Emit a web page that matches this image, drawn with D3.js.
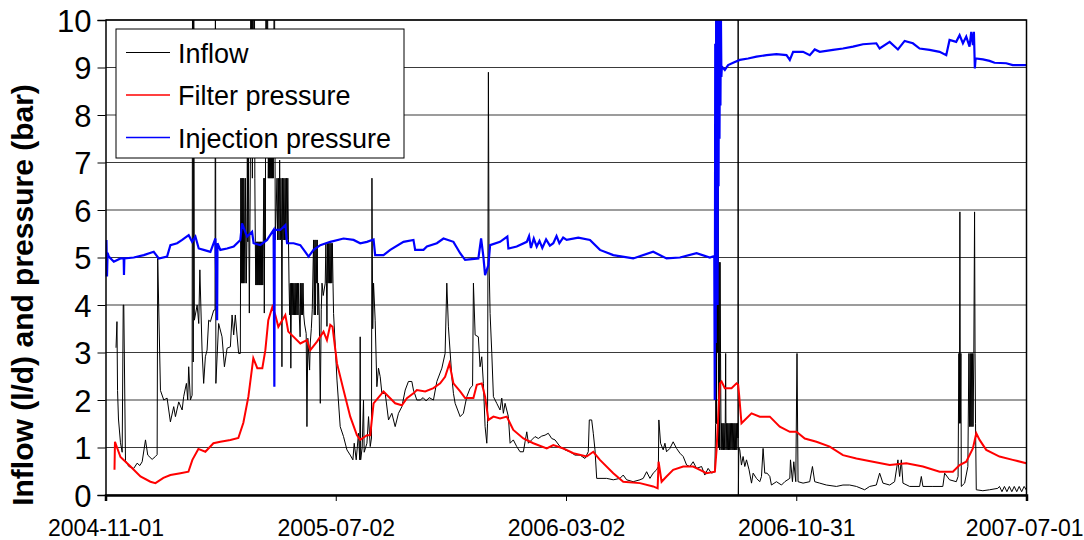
<!DOCTYPE html>
<html>
<head>
<meta charset="utf-8">
<script src="https://cdn.jsdelivr.net/npm/d3@7"></script>
<style>
  body { margin: 0; background: #fff; }
  svg text { font-family: Arial, "Liberation Sans", sans-serif; fill: #000; }
</style>
</head>
<body>
<main></main>
<script>
/* eslint-disable */

// ---- data ----
// x values are days since START, y values are l/d or bar
const START = '2004-11-01';
const END = '2007-07-01';
const xTickLabels = ['2004-11-01', '2005-07-02', '2006-03-02', '2006-10-31', '2007-07-01'];
const yTicks = [0, 1, 2, 3, 4, 5, 6, 7, 8, 9, 10];
const seriesNames = ['Inflow', 'Filter pressure', 'Injection pressure'];

const inflow = [
  [11.1, 3.1], [12.1, 3.65], [12.7, 2.2], [13.7, 1.6], [15.8, 1.1], [17.6, 0.9], [18.7, 4.0], [19.3, 4.0],
  [21.1, 0.72], [24.6, 0.6], [29.8, 0.56], [33.4, 0.67], [36.2, 0.62], [38.7, 0.7], [42.2, 1.16], [44.6, 0.84],
  [49.2, 0.75], [52.7, 0.81], [54.5, 0.85], [55.1, 4.98], [58.0, 2.2], [61.5, 2.0], [65.0, 2.04], [68.5, 1.54],
  [72.0, 1.86], [73.8, 1.65], [77.3, 1.96], [80.9, 1.79], [82.5, 2.07], [85.4, 2.35], [86.8, 2.0], [87.8, 2.7],
  [89.6, 2.0], [91.4, 2.1], [91.9, 12], [92.6, 2.8], [93.1, 12], [93.8, 3.68], [96.7, 4.0], [98.4, 3.61],
  [99.6, 4.74], [101.9, 3.05], [103.6, 2.35], [105.4, 2.91], [107.2, 3.05], [108.9, 3.68], [110.7, 3.65],
  [114.2, 3.89], [115.6, 3.9], [116.0, 12], [116.5, 2.35], [119.4, 3.61], [123.0, 3.33], [125.5, 2.7],
  [128.3, 3.09], [131.8, 3.12], [133.6, 3.79], [135.3, 3.37], [137.0, 3.79], [138.8, 3.37], [140.5, 2.98],
  [142.3, 2.98], [142.8, 6.67], [143.3, 4.46], [143.9, 6.67], [144.4, 4.46], [144.9, 6.67], [145.5, 4.46],
  [146.0, 6.67], [147.1, 4.46], [147.6, 6.67], [148.6, 4.46], [149.2, 5.33], [149.7, 7.1], [150.2, 5.33],
  [150.8, 7.1], [151.8, 3.83], [152.9, 7.1], [153.4, 12], [153.9, 7.1], [154.4, 12], [155.0, 6.67],
  [155.5, 12], [156.0, 7.1], [157.1, 12], [157.6, 6.67], [158.1, 5.33], [158.6, 4.42], [159.1, 5.33],
  [159.7, 4.42], [160.2, 5.33], [160.7, 4.42], [161.2, 5.33], [161.8, 4.42], [162.3, 5.33], [162.8, 4.42],
  [163.4, 5.33], [163.9, 4.42], [164.4, 5.33], [164.9, 4.42], [165.5, 5.33], [166.0, 4.42], [166.5, 5.33],
  [167.1, 6.67], [167.6, 3.83], [168.2, 6.67], [168.7, 5.33], [169.4, 12], [170.3, 7.1], [170.8, 12],
  [171.8, 6.67], [172.4, 7.47], [172.9, 6.67], [173.4, 7.47], [173.9, 6.67], [174.5, 7.47], [175.0, 6.67],
  [175.5, 7.47], [176.1, 6.67], [176.6, 7.47], [177.1, 6.67], [178.2, 12], [179.2, 5.37], [181.0, 6.67],
  [181.7, 5.37], [182.4, 6.67], [183.1, 5.37], [183.8, 7.05], [184.5, 5.37], [185.2, 6.67], [185.8, 5.37],
  [186.2, 2.7], [186.8, 6.67], [187.5, 5.37], [188.2, 6.67], [188.9, 5.37], [189.6, 6.67], [190.3, 5.37],
  [191.0, 6.67], [191.7, 5.37], [192.4, 6.67], [193.1, 5.37], [193.7, 4.46], [194.4, 3.79], [195.0, 4.46],
  [195.6, 2.67], [196.3, 4.46], [196.9, 3.79], [197.5, 4.46], [198.2, 3.79], [198.8, 4.46], [199.4, 3.79],
  [200.1, 4.46], [200.7, 3.79], [201.3, 4.46], [202.0, 3.79], [202.6, 4.46], [203.2, 3.79], [203.9, 4.46],
  [204.5, 3.79], [205.4, 3.33], [206.0, 4.46], [206.6, 3.79], [207.3, 4.46], [207.9, 3.79], [208.5, 4.46],
  [209.2, 3.79], [210.1, 3.6], [211.8, 3.4], [212.6, 1.44], [213.5, 3.3], [215.4, 2.63], [216.1, 3.2],
  [217.2, 3.5], [218.2, 3.9], [219.6, 5.37], [220.3, 3.79], [221.0, 5.37], [221.6, 3.79], [222.2, 5.37],
  [222.9, 4.46], [223.5, 5.37], [224.1, 3.79], [224.8, 4.46], [225.6, 3.79], [226.7, 1.93], [227.7, 3.9],
  [228.5, 4.46], [229.8, 4.2], [231.9, 4.46], [232.6, 5.3], [233.2, 4.46], [233.7, 3.55], [234.4, 5.3],
  [235.0, 4.46], [235.6, 5.3], [236.3, 4.46], [236.9, 5.3], [237.5, 4.46], [238.2, 5.3], [238.8, 4.46],
  [239.4, 5.3], [240.1, 4.46], [240.7, 3.82], [244.3, 2.42], [247.7, 1.44], [251.2, 1.23], [254.8, 0.95],
  [258.3, 0.84], [261.1, 0.74], [262.5, 1.09], [264.6, 0.74], [267.0, 1.3], [268.3, 0.74], [268.8, 3.33],
  [269.3, 0.74], [270.9, 1.0], [272.3, 2.0], [273.0, 0.9], [275.9, 1.09], [277.6, 1.65], [279.4, 1.02],
  [280.7, 1.2], [281.2, 6.67], [282.0, 3.5], [282.9, 4.46], [284.6, 3.68], [286.4, 2.28], [288.1, 2.67],
  [289.9, 2.49], [291.7, 2.14], [295.2, 2.14], [298.7, 1.58], [302.2, 1.72], [305.7, 1.44], [309.2, 1.72],
  [312.8, 1.86], [316.3, 2.21], [319.7, 2.39], [323.3, 2.39], [325.0, 2.21], [328.6, 2.0], [332.1, 2.0],
  [335.2, 2.05], [338.4, 1.98], [341.6, 2.05], [346.1, 2.0], [349.7, 2.39], [355.0, 2.67], [358.4, 2.98],
  [360.2, 4.46], [361.9, 3.54], [365.5, 2.49], [367.2, 2.14], [369.0, 1.93], [374.3, 1.65], [377.7, 1.72],
  [381.3, 2.07], [384.8, 2.25], [387.4, 2.3], [388.3, 4.46], [390.1, 3.37], [393.5, 3.33], [395.3, 2.7],
  [397.1, 2.91], [398.8, 2.35], [400.6, 1.44], [402.4, 1.09], [403.2, 1.5], [404.1, 8.9], [404.8, 4.9],
  [405.9, 3.82], [407.7, 2.98], [409.4, 2.07], [412.9, 1.93], [416.4, 1.79], [418.2, 2.04], [419.9, 1.72],
  [421.7, 1.93], [425.2, 1.65], [427.0, 1.09], [430.4, 1.16], [434.0, 1.02], [437.5, 0.91], [441.0, 0.91],
  [442.8, 1.12], [444.6, 1.33], [446.3, 1.09], [449.8, 1.16], [453.3, 1.23], [456.8, 1.19], [460.4, 1.24],
  [463.9, 1.26], [467.3, 1.3], [470.9, 1.19], [474.4, 1.16], [479.7, 1.02], [484.9, 0.95], [490.2, 0.91],
  [495.5, 0.84], [500.8, 0.84], [506.0, 0.77], [509.5, 0.91], [510.6, 1.58], [513.1, 1.58], [514.8, 1.3],
  [516.6, 0.95], [518.4, 0.35], [528.9, 0.35], [535.9, 0.32], [542.9, 0.35], [546.4, 0.42], [550.0, 0.32],
  [556.9, 0.28], [564.0, 0.32], [567.5, 0.35], [571.1, 0.49], [574.6, 0.35], [578.0, 0.46], [581.6, 0.53],
  [583.5, 0.6], [584.0, 1.58], [585.8, 1.09], [588.6, 0.95], [590.4, 1.09], [592.1, 0.91], [595.6, 0.98],
  [599.1, 1.12], [602.7, 0.98], [606.2, 0.88], [609.7, 0.81], [613.3, 0.63], [616.7, 0.6], [620.2, 0.7],
  [623.8, 0.56], [629.1, 0.6], [632.5, 0.42], [636.0, 0.56], [639.6, 0.46], [643.1, 0.49], [643.9, 1.51],
  [644.4, 12], [644.9, 1.5], [645.5, 12], [646.0, 3.0], [646.5, 12], [647.0, 1.0], [647.6, 4.9],
  [648.1, 0.95], [648.6, 4.9], [649.1, 2.98], [649.7, 0.95], [650.3, 1.51], [650.9, 0.95], [651.6, 1.51],
  [652.2, 0.95], [652.8, 1.51], [653.5, 0.95], [654.1, 1.51], [654.5, 2.98], [654.9, 0.95], [655.6, 1.51],
  [656.2, 0.95], [656.8, 1.51], [657.5, 0.95], [658.1, 1.51], [658.7, 0.95], [659.4, 1.51], [660.0, 0.95],
  [660.6, 1.51], [661.3, 0.95], [661.9, 1.51], [662.5, 0.95], [663.2, 1.51], [663.8, 0.95], [664.4, 1.51],
  [665.1, 0.95], [665.7, 1.51], [666.3, 0.95], [667.0, 1.51], [667.5, 1.2], [667.7, 12], [667.9, 0],
  [668.4, 1.0], [669.4, 0.95], [671.2, 0.63], [672.9, 0.81], [674.7, 0.6], [676.5, 0.74], [679.2, 0.53],
  [681.8, 0.25], [683.5, 0.46], [687.0, 0.35], [690.5, 0.28], [692.3, 0.39], [694.0, 0.98], [695.8, 0.46],
  [698.2, 0.46], [701.1, 0.39], [702.8, 0.21], [708.1, 0.28], [713.4, 0.21], [716.9, 0.28], [722.2, 0.35],
  [722.9, 0.74], [725.0, 0.28], [726.4, 0.7], [728.5, 0.28], [729.8, 2.98], [730.9, 0.28], [736.2, 0.25],
  [743.2, 0.28], [746.1, 0.6], [748.5, 0.28], [753.8, 0.25], [760.8, 0.21], [771.4, 0.18], [778.3, 0.21],
  [785.4, 0.21], [792.5, 0.18], [801.2, 0.11], [806.5, 0.18], [813.5, 0.21], [817.0, 0.46], [820.5, 0.25],
  [827.6, 0.21], [832.8, 0.28], [836.3, 0.74], [838.1, 0.39], [839.9, 0.74], [841.6, 0.25], [848.7, 0.18],
  [859.2, 0.18], [861.0, 0.39], [862.7, 0.18], [873.2, 0.18], [883.7, 0.18], [885.6, 0.46], [890.8, 0.32],
  [897.9, 0.28], [899.8, 0.39], [900.6, 2.98], [901.2, 1.51], [901.7, 5.96], [902.2, 1.51], [902.8, 2.98],
  [903.2, 0.18], [906.7, 0.25], [910.1, 0.6], [911.2, 2.98], [911.9, 1.44], [912.6, 2.98], [913.2, 1.44],
  [913.8, 2.98], [914.4, 1.44], [915.1, 2.98], [915.6, 1.44], [916.4, 2.98], [917.2, 5.96], [917.7, 2.98],
  [918.2, 1.5], [919.0, 0.11], [925.9, 0.09], [933.0, 0.11], [941.7, 0.14], [943.5, 0.18], [946.1, 0.07],
  [948.7, 0.18], [951.3, 0.07], [953.9, 0.18], [956.5, 0.07], [959.1, 0.18], [961.7, 0.07], [964.3, 0.18],
  [966.9, 0.07], [969.5, 0.18], [972.0, 0.1]
];

const filterPressure = [
  [9.5, 0.53], [10.0, 1.12], [15.8, 0.8], [26.4, 0.6], [36.9, 0.39], [47.4, 0.28], [52.7, 0.25], [61.1, 0.36],
  [68.5, 0.42], [79.1, 0.46], [87.5, 0.49], [91.7, 0.74], [98.0, 0.97], [105.4, 0.91], [113.9, 1.09],
  [121.2, 1.12], [131.8, 1.16], [140.2, 1.2], [145.5, 1.52], [150.8, 2.07], [156.0, 2.88], [160.2, 2.67],
  [165.5, 2.67], [168.7, 3.05], [171.8, 3.68], [176.1, 3.96], [179.2, 3.79], [182.4, 3.54], [184.5, 3.61],
  [189.8, 3.79], [192.9, 3.44], [205.6, 3.19], [212.6, 3.26], [216.1, 3.05], [223.2, 3.23], [230.1, 3.44],
  [233.7, 3.26], [237.2, 3.58], [239.6, 3.54], [244.3, 2.77], [251.2, 2.21], [258.3, 1.65], [265.3, 1.26],
  [268.8, 1.16], [275.9, 1.26], [279.4, 1.26], [282.9, 1.93], [293.4, 2.18], [305.7, 1.93], [312.8, 1.89],
  [318.1, 2.04], [325.0, 2.14], [328.6, 2.21], [337.4, 2.18], [346.1, 2.25], [353.2, 2.35], [358.4, 2.49],
  [363.0, 2.77], [367.2, 2.35], [374.3, 2.18], [379.5, 2.04], [388.3, 2.04], [391.9, 2.32], [397.1, 2.35],
  [400.6, 2.07], [404.1, 1.58], [409.4, 1.65], [416.4, 1.61], [423.5, 1.65], [430.4, 1.37], [441.0, 1.19],
  [451.5, 1.09], [465.7, 0.98], [472.6, 1.05], [483.2, 0.98], [493.7, 0.88], [507.8, 0.81], [514.8, 0.91],
  [521.8, 0.74], [535.9, 0.46], [546.4, 0.28], [564.0, 0.25], [578.0, 0.18], [582.7, 0.14], [583.7, 0.7],
  [586.9, 0.28], [592.1, 0.39], [599.1, 0.53], [609.7, 0.6], [620.2, 0.6], [627.3, 0.53], [634.3, 0.46],
  [643.1, 0.49], [644.9, 0.95], [648.4, 2.35], [650.2, 2.39], [653.6, 2.25], [660.7, 2.25], [666.0, 2.35],
  [667.7, 2.32], [668.7, 2.11], [671.2, 1.51], [674.7, 1.58], [681.8, 1.72], [690.5, 1.65], [701.1, 1.65],
  [711.6, 1.44], [722.2, 1.33], [729.2, 1.33], [738.0, 1.19], [750.3, 1.12], [764.3, 1.02], [778.3, 0.84],
  [792.5, 0.77], [810.0, 0.7], [827.6, 0.63], [845.2, 0.67], [862.7, 0.6], [880.3, 0.49], [894.3, 0.49],
  [901.4, 0.63], [908.4, 0.7], [915.4, 0.98], [919.0, 1.3], [922.5, 1.16], [929.5, 0.95], [943.5, 0.81],
  [957.5, 0.74], [971.7, 0.67]
];

const injectionPressure = [
  [0.5, 4.6], [1.0, 5.37], [1.6, 4.6], [2.2, 5.1], [3.5, 5.02], [8.8, 4.91], [15.8, 4.98], [19.2, 4.98],
  [19.5, 4.63], [19.9, 4.98], [29.8, 5.0], [40.4, 5.05], [50.9, 5.12], [56.2, 4.98], [65.0, 5.02],
  [68.5, 5.26], [75.6, 5.3], [80.9, 5.37], [87.8, 5.47], [91.4, 5.33], [94.9, 5.44], [98.4, 5.19],
  [103.6, 5.16], [110.7, 5.12], [116.0, 5.4], [117.8, 3.68], [118.2, 5.3], [121.2, 5.16], [128.3, 5.19],
  [135.3, 5.23], [142.3, 5.37], [144.1, 5.72], [149.4, 5.44], [154.7, 5.54], [156.3, 5.3], [163.4, 5.26],
  [170.5, 5.37], [177.4, 5.58], [178.2, 2.28], [178.6, 5.58], [184.5, 5.58], [189.8, 5.68], [191.6, 5.3],
  [198.5, 5.3], [205.6, 5.26], [210.8, 5.12], [214.3, 5.02], [219.6, 5.16], [226.7, 5.26], [237.2, 5.33],
  [251.2, 5.4], [261.8, 5.37], [268.8, 5.3], [275.9, 5.33], [282.9, 5.38], [284.6, 5.05], [293.4, 5.05],
  [300.5, 5.16], [314.5, 5.33], [325.0, 5.37], [326.8, 5.16], [335.6, 5.16], [339.2, 5.23], [349.7, 5.3],
  [356.7, 5.4], [367.2, 5.33], [374.3, 5.09], [379.5, 4.95], [393.5, 4.98], [396.4, 5.4], [398.8, 5.02],
  [400.6, 4.63], [404.1, 4.84], [405.9, 5.26], [416.4, 5.33], [424.1, 5.44], [425.2, 5.19], [434.0, 5.23],
  [444.6, 5.33], [447.0, 5.45], [449.0, 5.2], [452.0, 5.4], [455.1, 5.23], [458.0, 5.35], [461.0, 5.2],
  [465.0, 5.38], [469.0, 5.25], [472.6, 5.3], [476.0, 5.45], [479.0, 5.3], [483.0, 5.42], [486.7, 5.37],
  [499.0, 5.42], [511.3, 5.37], [521.8, 5.16], [535.9, 5.05], [556.9, 4.98], [578.0, 5.12], [592.1, 4.98],
  [606.2, 5.0], [623.8, 5.09], [637.8, 5.0], [642.5, 5.03], [643.0, 2.0], [643.5, 9.5], [644.0, 3.2],
  [644.5, 10.2], [645.0, 5.5], [645.5, 10.2], [646.0, 4.0], [646.5, 9.8], [647.0, 6.5], [647.5, 10.2],
  [648.0, 7.5], [648.5, 9.6], [649.0, 8.2], [649.5, 10.1], [650.0, 8.8], [650.5, 9.02], [653.6, 8.95],
  [657.1, 9.05], [662.4, 9.1], [669.4, 9.16], [678.2, 9.19], [687.0, 9.23], [697.6, 9.26], [708.1, 9.28],
  [718.7, 9.26], [722.2, 9.16], [725.7, 9.33], [736.2, 9.33], [743.3, 9.26], [748.5, 9.38], [753.8, 9.33],
  [767.8, 9.37], [778.3, 9.4], [788.9, 9.44], [799.4, 9.49], [813.5, 9.51], [817.0, 9.4], [827.6, 9.54],
  [836.3, 9.38], [843.4, 9.56], [852.1, 9.51], [859.2, 9.4], [869.7, 9.37], [880.3, 9.33], [887.3, 9.26],
  [890.8, 9.58], [897.8, 9.54], [901.4, 9.68], [904.9, 9.51], [908.4, 9.65], [911.9, 9.44], [913.7, 9.75],
  [915.4, 9.47], [916.5, 9.75], [917.5, 8.98], [918.3, 9.19], [926.0, 9.17], [933.0, 9.14], [938.3, 9.1],
  [950.6, 9.09], [957.5, 9.05], [972.0, 9.05]
];

// ---- layout ----
const WIDTH = 1084;
const HEIGHT = 540;
const PLOT = { left: 105.5, right: 1026.5, top: 20, bottom: 495 };

const parseDate = d3.timeParse('%Y-%m-%d');
const startDate = parseDate(START);
const dayToDate = d => new Date(startDate.getTime() + d * 864e5);

const x = d3.scaleTime()
  .domain([startDate, parseDate(END)])
  .range([PLOT.left, PLOT.right]);

const y = d3.scaleLinear()
  .domain([0, 10])
  .range([PLOT.bottom, PLOT.top]);

const svg = d3.select('main')
  .append('svg')
  .attr('width', WIDTH)
  .attr('height', HEIGHT);

svg.append('defs')
  .append('clipPath')
  .attr('id', 'plot-clip')
  .append('rect')
  .attr('x', PLOT.left)
  .attr('y', PLOT.top)
  .attr('width', PLOT.right - PLOT.left)
  .attr('height', PLOT.bottom - PLOT.top);

// horizontal gridlines
svg.append('g')
  .attr('class', 'grid')
  .selectAll('line')
  .data(yTicks)
  .enter()
  .append('line')
  .attr('x1', PLOT.left)
  .attr('x2', PLOT.right)
  .attr('y1', d => y(d))
  .attr('y2', d => y(d))
  .attr('stroke', '#3a3a3a')
  .attr('stroke-width', 1.2);

// series
const series = [
  { name: seriesNames[0], data: inflow, color: '#000000', width: 1 },
  { name: seriesNames[1], data: filterPressure, color: '#ff0000', width: 2 },
  { name: seriesNames[2], data: injectionPressure, color: '#0000ff', width: 2.2 }
];

const line = d3.line()
  .x(d => x(dayToDate(d[0])))
  .y(d => y(d[1]));

svg.append('g')
  .attr('clip-path', 'url(#plot-clip)')
  .selectAll('path')
  .data(series)
  .enter()
  .append('path')
  .attr('d', d => line(d.data))
  .attr('fill', 'none')
  .attr('stroke', d => d.color)
  .attr('stroke-width', d => d.width)
  .attr('stroke-linejoin', 'miter');

// frame: top + right border
svg.append('path')
  .attr('d', `M${PLOT.left},${PLOT.top}H${PLOT.right}V${PLOT.bottom}`)
  .attr('fill', 'none')
  .attr('stroke', '#000')
  .attr('stroke-width', 1.5);

// y axis
const yAxis = d3.axisLeft(y)
  .tickValues(yTicks)
  .tickSize(8)
  .tickPadding(6)
  .tickFormat(d3.format('d'));

const yG = svg.append('g')
  .attr('transform', `translate(${PLOT.left},0)`)
  .call(yAxis);
yG.select('.domain').attr('stroke', '#000').attr('stroke-width', 1.5);
yG.selectAll('.tick line').attr('stroke', '#000');
yG.selectAll('.tick text')
  .attr('font-size', 31)
  .attr('dy', '0.36em');

// x axis
const xAxis = d3.axisBottom(x)
  .tickValues(xTickLabels.map(parseDate))
  .tickSize(6)
  .tickPadding(19)
  .tickFormat(d3.timeFormat('%Y-%m-%d'));

const xG = svg.append('g')
  .attr('transform', `translate(0,${PLOT.bottom})`)
  .call(xAxis);
xG.select('.domain').attr('stroke', '#000').attr('stroke-width', 2.5);
xG.selectAll('.tick line').attr('stroke', '#000');
xG.selectAll('.tick text').attr('font-size', 23);

// last label sits at the right edge of the page: keep it inside
xG.selectAll('.tick text')
  .filter((d, i, nodes) => i === nodes.length - 1)
  .attr('text-anchor', 'end')
  .attr('x', WIDTH - 1 - PLOT.right);

// axis title
svg.append('text')
  .attr('transform', 'translate(33,295) rotate(-90)')
  .attr('text-anchor', 'middle')
  .attr('font-size', 30)
  .attr('font-weight', 'bold')
  .text('Inflow (l/d) and pressure (bar)');

// legend, drawn over the data like in the original
const legend = svg.append('g')
  .attr('class', 'legend')
  .attr('transform', 'translate(116,29)');

legend.append('rect')
  .attr('width', 288)
  .attr('height', 129)
  .attr('fill', '#fff')
  .attr('stroke', '#000')
  .attr('stroke-width', 1);

const entry = legend.selectAll('g.entry')
  .data(series)
  .enter()
  .append('g')
  .attr('class', 'entry')
  .attr('transform', (d, i) => `translate(0,${33.5 + i * 42.5})`);

entry.append('line')
  .attr('x1', 10)
  .attr('x2', 54)
  .attr('y1', -10)
  .attr('y2', -10)
  .attr('stroke', d => d.color)
  .attr('stroke-width', d => Math.min(d.width, 1.5));

entry.append('text')
  .attr('x', 62)
  .attr('font-size', 27)
  .text(d => d.name);
</script>
</body>
</html>
